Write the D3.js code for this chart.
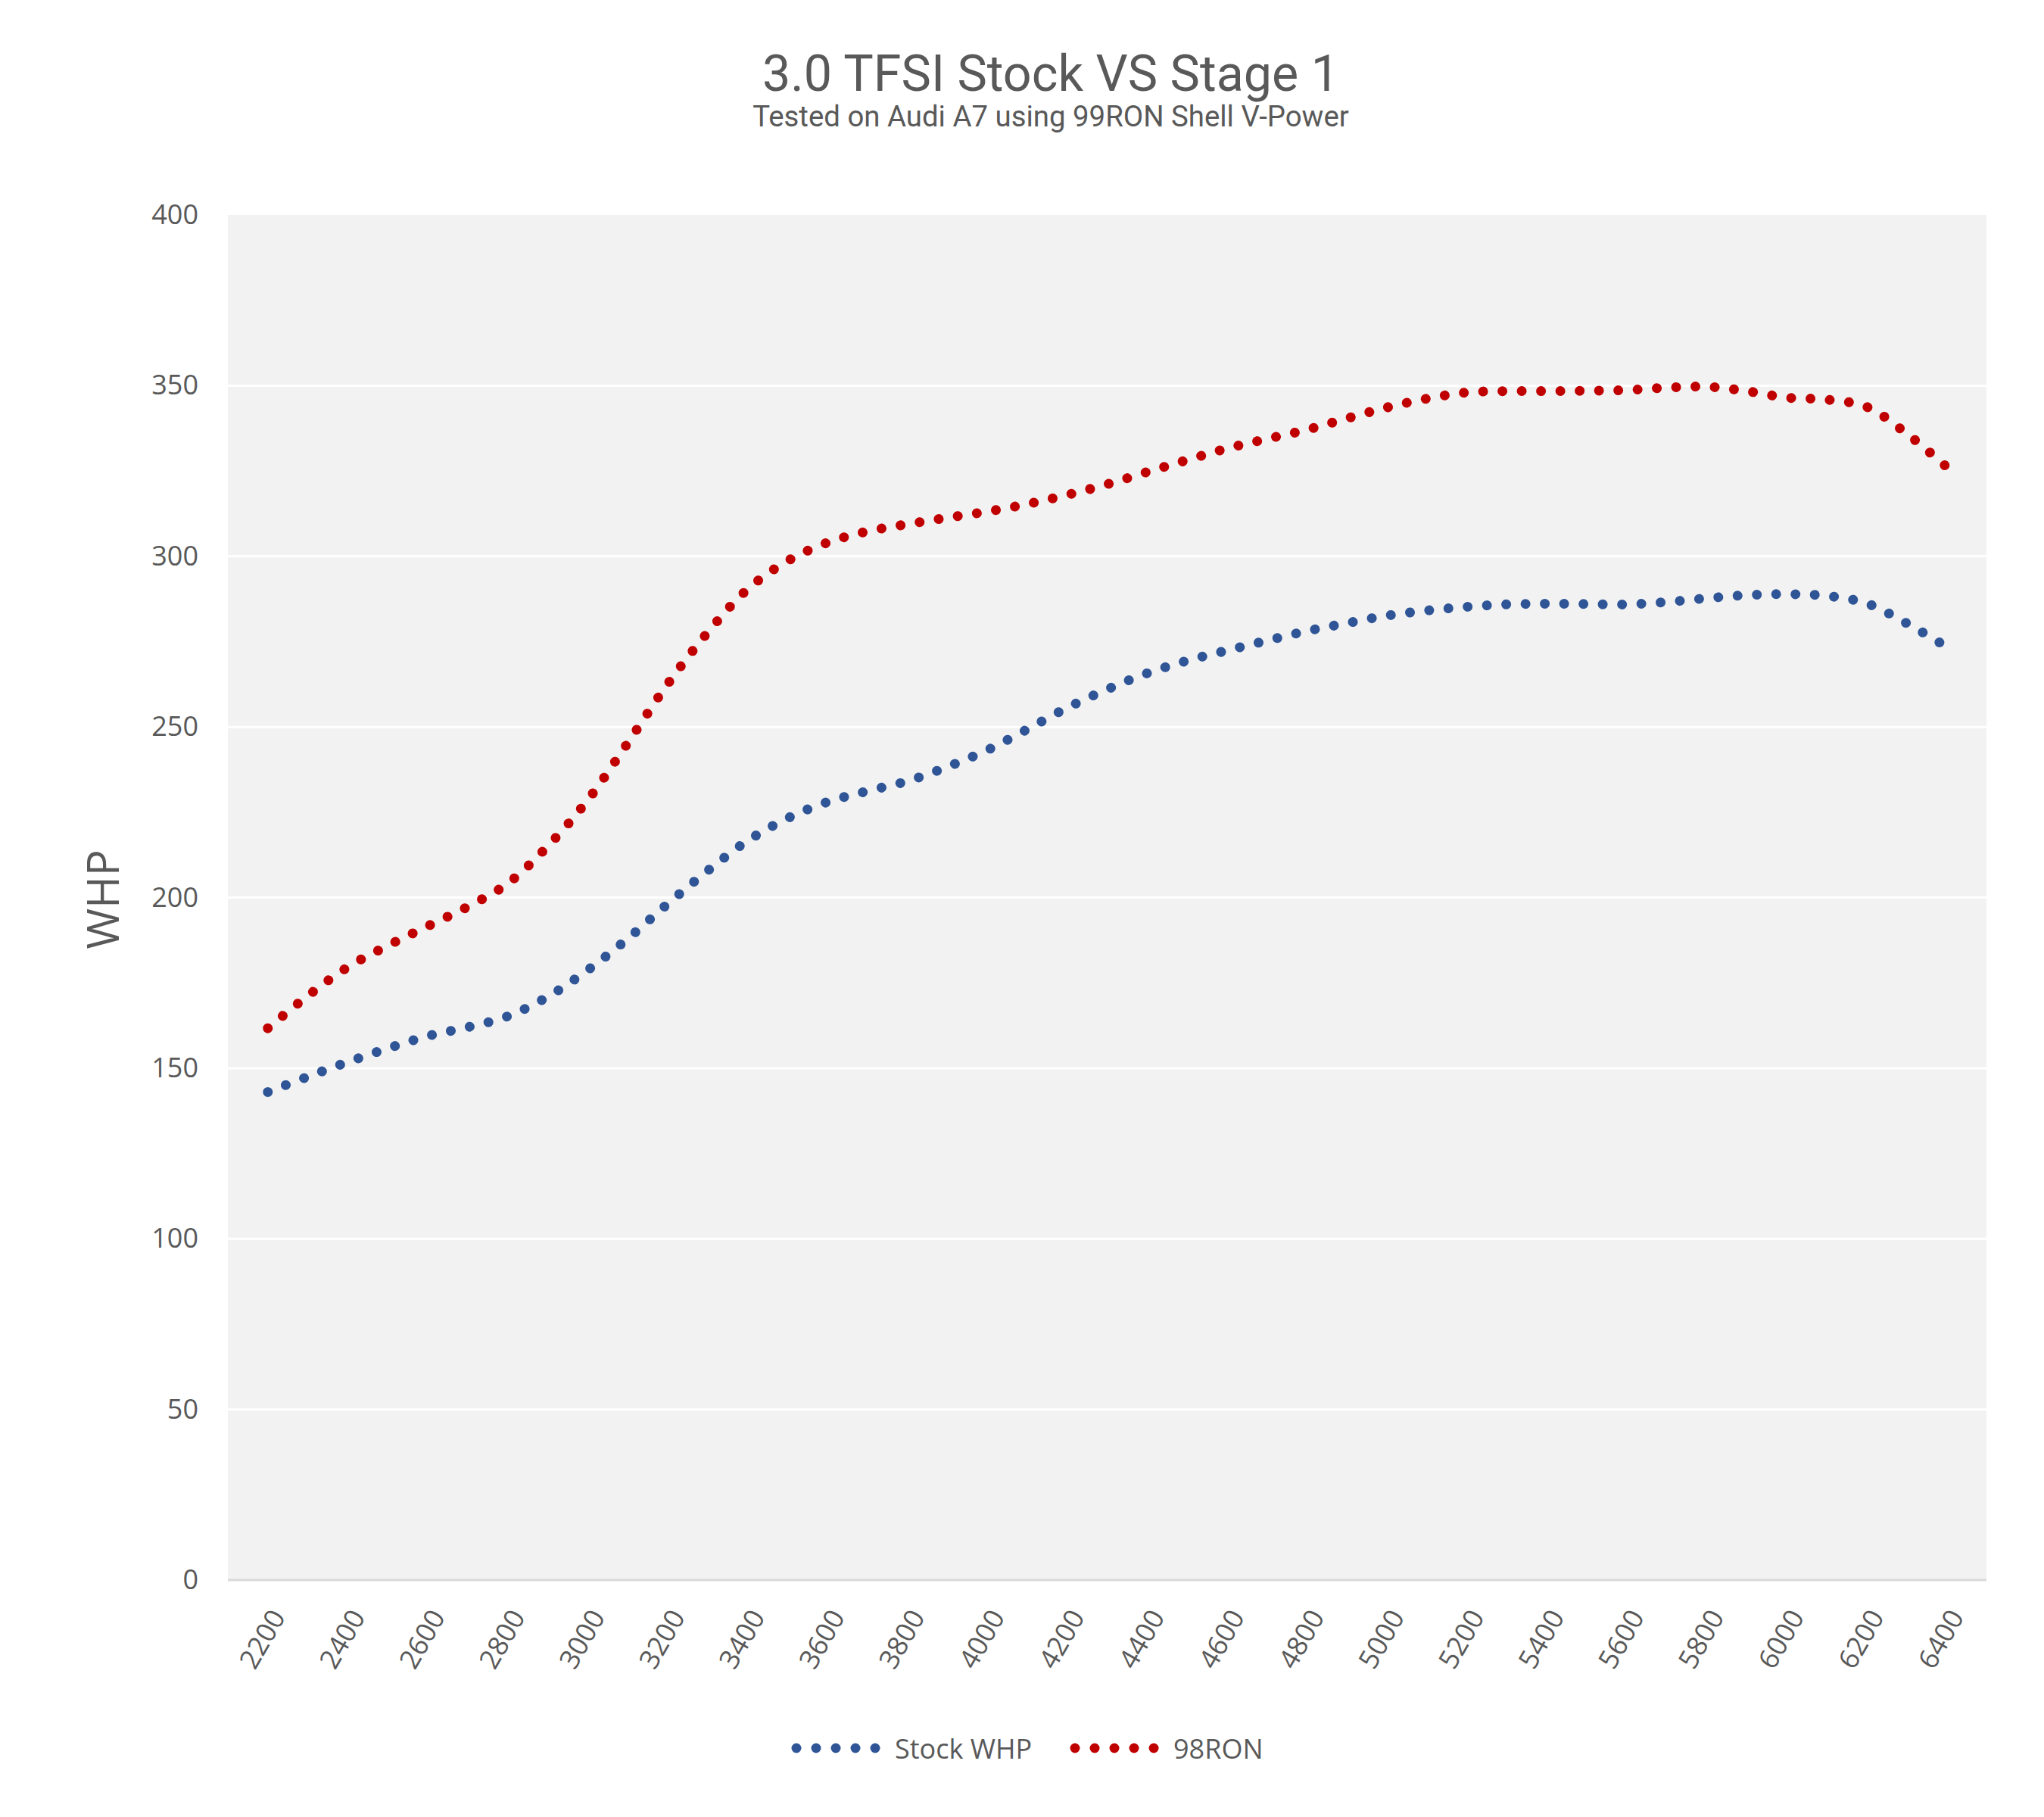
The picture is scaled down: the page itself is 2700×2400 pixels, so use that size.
<!DOCTYPE html>
<html>
<head>
<meta charset="utf-8">
<script src="https://cdn.jsdelivr.net/npm/d3@7"></script>
<style>
  html, body { margin: 0; padding: 0; background: #ffffff; }
  svg { display: block; }
</style>
</head>
<body>
<svg id="chart" width="2700" height="2400"></svg>
<script>
// ---- data ----
const rpm = [2200,2300,2400,2500,2600,2700,2800,2900,3000,3100,3200,3300,3400,3500,3600,3700,3800,3900,4000,4100,4200,4300,4400,4500,4600,4700,4800,4900,5000,5100,5200,5300,5400,5500,5600,5700,5800,5900,6000,6100,6200,6300,6400];
const stockWHP = [143.0,147.5,151.8,155.8,159.4,162.0,165.2,170.9,178.7,187.9,198.1,207.8,216.6,223.2,228.0,231.2,234.1,238.3,243.2,249.3,255.6,261.0,265.7,269.4,272.4,275.3,278.1,280.4,282.6,284.1,285.2,285.9,286.1,286.0,285.9,286.6,287.7,288.6,288.9,288.4,286.2,280.4,273.5];
const ron98 = [161.7,171.2,179.6,185.9,191.6,197.3,204.1,215.0,228.5,245.2,262.5,277.6,290.3,298.6,304.0,307.3,309.4,311.3,313.1,315.3,318.0,321.1,324.7,328.2,331.6,334.4,337.1,340.4,343.6,346.2,348.0,348.4,348.4,348.5,348.7,349.4,349.7,348.4,346.5,345.9,343.8,336.0,326.2];
const xTickLabels = ["2200","2400","2600","2800","3000","3200","3400","3600","3800","4000","4200","4400","4600","4800","5000","5200","5400","5600","5800","6000","6200","6400"];
const yTicks = [0,50,100,150,200,250,300,350,400];
const seriesNames = ["Stock WHP","98RON"];
const seriesColors = ["#2F5597","#C00000"];
const titleText = "3.0 TFSI Stock VS Stage 1";
const subtitleText = "Tested on Audi A7 using 99RON Shell V-Power";
const yAxisTitle = "WHP";

// ---- layout ----
const plot = {left: 301, right: 2624, top: 284, bottom: 2087};
const svg = d3.select("#chart");
const textColor = "#595959";
const tickFont = "'Open Sans', 'Noto Sans', sans-serif";

const x = d3.scalePoint().domain(rpm).range([plot.left, plot.right]).padding(1);
const y = d3.scaleLinear().domain([0, 400]).range([plot.bottom, plot.top]);

// plot background
svg.append("rect")
  .attr("x", plot.left).attr("y", plot.top)
  .attr("width", plot.right - plot.left).attr("height", plot.bottom - plot.top)
  .attr("fill", "#F2F2F2");

// gridlines
svg.append("g").selectAll("line")
  .data(yTicks.filter(d => d > 0 && d < 400))
  .join("line")
  .attr("x1", plot.left).attr("x2", plot.right)
  .attr("y1", d => y(d)).attr("y2", d => y(d))
  .attr("stroke", "#FFFFFF").attr("stroke-width", 3);

// bottom axis line
svg.append("line")
  .attr("x1", plot.left).attr("x2", plot.right)
  .attr("y1", y(0)).attr("y2", y(0))
  .attr("stroke", "#D9D9D9").attr("stroke-width", 3);

// y axis
const yAxis = svg.append("g")
  .attr("transform", `translate(${plot.left},0)`)
  .call(d3.axisLeft(y).tickValues(yTicks).tickSize(0).tickPadding(39).tickFormat(d3.format("d")));
yAxis.select(".domain").remove();
yAxis.selectAll("text")
  .attr("font-family", tickFont).attr("font-size", 36).attr("fill", textColor);

// x axis
const xAxis = svg.append("g")
  .attr("transform", `translate(0,${plot.bottom})`)
  .call(d3.axisBottom(x).tickValues(xTickLabels.map(Number)).tickSize(0).tickFormat(d => String(d)));
xAxis.select(".domain").remove();
xAxis.selectAll("text")
  .attr("font-family", tickFont).attr("font-size", 36).attr("fill", textColor)
  .attr("text-anchor", "end")
  .attr("y", 0).attr("dy", 0)
  .attr("transform", "translate(12,42) rotate(-60)")
  .attr("dominant-baseline", "central");

// lines
const line = d3.line()
  .x((d, i) => x(rpm[i]))
  .y(d => y(d))
  .curve(d3.curveCatmullRom.alpha(0.5));

[stockWHP, ron98].forEach((s, k) => {
  svg.append("path")
    .attr("d", line(s))
    .attr("fill", "none")
    .attr("stroke", seriesColors[k])
    .attr("stroke-width", 13)
    .attr("stroke-linecap", "round")
    .attr("stroke-dasharray", "0.01 25.5");
});

// titles
function fitText(sel, target) {
  const w = sel.node().getComputedTextLength();
  const fs = parseFloat(sel.attr("font-size"));
  sel.attr("font-size", fs * target / w);
}
const t1 = svg.append("text")
  .attr("x", 1388).attr("y", 120)
  .attr("text-anchor", "middle")
  .attr("font-family", "Roboto, 'Noto Sans', sans-serif")
  .attr("font-size", 66).attr("fill", textColor)
  .text(titleText);
fitText(t1, 762);
const t2 = svg.append("text")
  .attr("x", 1388).attr("y", 167)
  .attr("text-anchor", "middle")
  .attr("font-family", "Roboto, 'Noto Sans', sans-serif")
  .attr("font-size", 34).attr("fill", textColor)
  .text(subtitleText);
fitText(t2, 788);

// y axis title
svg.append("text")
  .attr("transform", "translate(134,1188) rotate(-90)")
  .attr("text-anchor", "middle")
  .attr("dominant-baseline", "central")
  .attr("font-family", tickFont)
  .attr("font-size", 58).attr("fill", textColor)
  .text(yAxisTitle);

// legend
const legendItems = [
  {x0: 1052, x1: 1157, tx: 1182},
  {x0: 1420, x1: 1525, tx: 1550}
];
const legendY = 2309;
legendItems.forEach((it, k) => {
  svg.append("line")
    .attr("x1", it.x0).attr("x2", it.x1)
    .attr("y1", legendY).attr("y2", legendY)
    .attr("stroke", seriesColors[k])
    .attr("stroke-width", 13)
    .attr("stroke-linecap", "round")
    .attr("stroke-dasharray", "0.01 26");
  svg.append("text")
    .attr("x", it.tx).attr("y", legendY)
    .attr("dominant-baseline", "central")
    .attr("font-family", tickFont)
    .attr("font-size", 36).attr("fill", textColor)
    .text(seriesNames[k]);
});
</script>
</body>
</html>
